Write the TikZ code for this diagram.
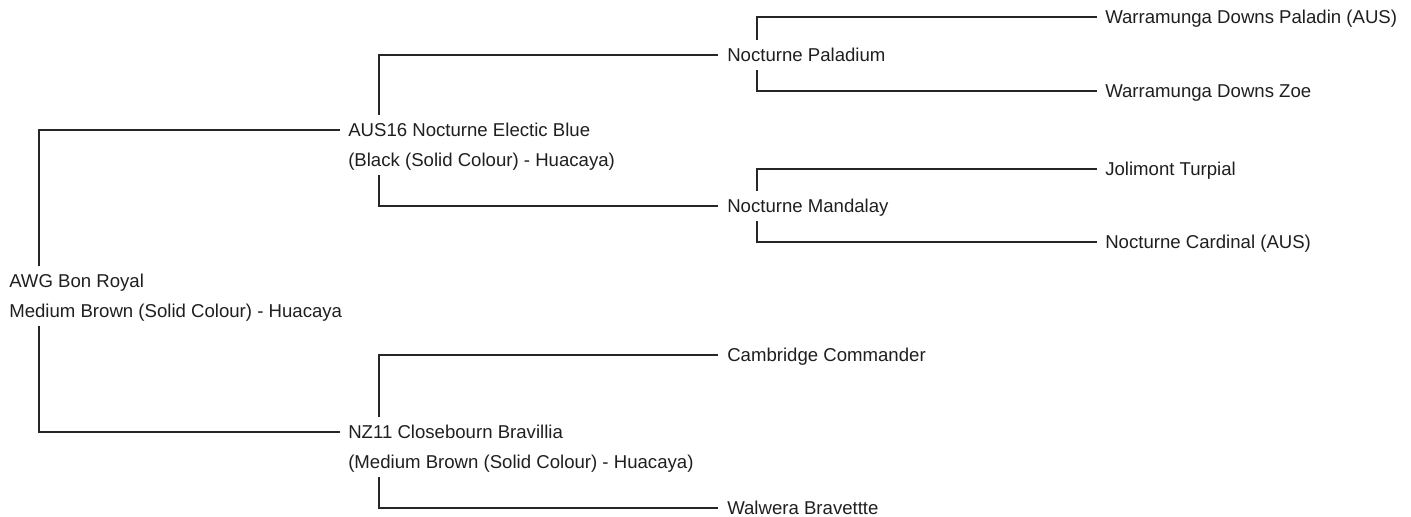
\documentclass[tikz,border=0pt]{standalone}
\usepackage{fontspec}
\setmainfont{Liberation Sans}
\usetikzlibrary{calc}
\begin{document}
\begin{tikzpicture}[x=0.75pt,y=-0.75pt,
  lbl/.style={anchor=west,inner sep=0pt,text height=9.95pt,text depth=0pt,
    text=black!88,font=\fontsize{13.95}{16}\selectfont},
  link/.style={line width=0.8pt,black!85}]
\useasboundingbox (0,0) rectangle (1411,517);
% generation 0
\node[lbl] (root)  at (9,281) {AWG Bon Royal};
\node[lbl] (root2) at (9,311) {Medium Brown (Solid Colour) - Huacaya};
% generation 1
\node[lbl] (aus)  at (348,130) {AUS16 Nocturne Electic Blue};
\node[lbl] (aus2) at (348,160) {(Black (Solid Colour) - Huacaya)};
\node[lbl] (nz)   at (348,432) {NZ11 Closebourn Bravillia};
\node[lbl] (nz2)  at (348,462) {(Medium Brown (Solid Colour) - Huacaya)};
% generation 2
\node[lbl] (pal) at (727,55)  {Nocturne Paladium};
\node[lbl] (man) at (727,206) {Nocturne Mandalay};
\node[lbl] (cam) at (727,355) {Cambridge Commander};
\node[lbl] (wal) at (727,508) {Walwera Bravettte};
% generation 3
\node[lbl] (wdp) at (1105,17)  {Warramunga Downs Paladin (AUS)};
\node[lbl] (wdz) at (1105,91)  {Warramunga Downs Zoe};
\node[lbl] (jol) at (1105,169) {Jolimont Turpial};
\node[lbl] (car) at (1105,242) {Nocturne Cardinal (AUS)};
% connectors
\draw[link] ($(root.north west)+(30,-8)$)  |- ($(aus.west)+(-8,0)$);
\draw[link] ($(root2.south west)+(30,8.5)$) |- ($(nz.west)+(-8,0)$);
\draw[link] ($(aus.north west)+(31,-8)$)  |- ($(pal.west)+(-9,0)$);
\draw[link] ($(aus2.south west)+(31,8.5)$) |- ($(man.west)+(-9,0)$);
\draw[link] ($(nz.north west)+(31,-8)$)   |- ($(cam.west)+(-9,0)$);
\draw[link] ($(nz2.south west)+(31,8.5)$)  |- ($(wal.west)+(-9,0)$);
\draw[link] ($(pal.north west)+(30,-8)$)  |- ($(wdp.west)+(-8,0)$);
\draw[link] ($(pal.south west)+(30,8.5)$)  |- ($(wdz.west)+(-8,0)$);
\draw[link] ($(man.north west)+(30,-8)$)  |- ($(jol.west)+(-8,0)$);
\draw[link] ($(man.south west)+(30,8.5)$)  |- ($(car.west)+(-8,0)$);
\end{tikzpicture}
\end{document}
